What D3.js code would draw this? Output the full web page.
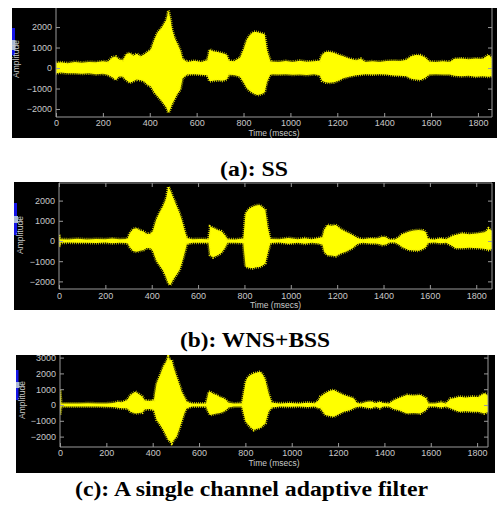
<!DOCTYPE html>
<html><head><meta charset="utf-8">
<script src="https://cdn.jsdelivr.net/npm/d3@7"></script>
<style>
body{margin:0;background:#fff;}
svg{display:block;}
.tk text{fill:#c8c8c8;font-family:"Liberation Sans",Arial,sans-serif;font-size:9px;}
.tk path,.tk line{stroke:#9a9a9a;stroke-width:1;}
</style></head><body>
<svg id="c" width="497" height="512"></svg>
<script>
// ---------- data ----------
const xTicks = [0,200,400,600,800,1000,1200,1400,1600,1800];
const yTicksAB = [-2000,-1000,0,1000,2000];
const yTicksC = [-2000,-1000,0,1000,2000,3000];
const xLabel = "Time (msecs)";
const yLabel = "Amplitude";
const captions = ["(a): SS","(b): WNS+BSS","(c): A single channel adaptive filter"];

// (a) SS : envelope of the waveform [time, upper, lower]
const ssTime  = [0,20,50,80,110,140,170,200,220,240,255,270,285,300,315,330,345,360,375,390,405,420,435,450,460,470,480,488,495,505,515,530,540,560,590,620,645,655,670,690,710,728,738,760,785,800,815,830,845,860,875,890,900,915,950,980,1010,1040,1070,1100,1125,1135,1150,1165,1185,1205,1225,1250,1280,1300,1320,1350,1380,1410,1440,1470,1495,1515,1535,1555,1575,1592,1620,1650,1680,1700,1730,1760,1790,1820,1845,1860];
const ssUpper = [250,280,230,300,260,300,280,330,300,520,560,420,380,680,730,600,700,560,650,780,900,1400,1770,1950,2150,2350,2800,2400,1900,1500,1250,880,450,300,350,300,380,900,820,780,720,650,350,330,500,900,1400,1650,1770,1750,1700,1650,880,320,300,340,300,360,310,330,350,650,780,800,750,650,570,460,380,450,300,330,300,340,360,340,400,580,630,620,520,320,300,330,300,450,470,430,470,440,640,500];
const ssLower = [-250,-220,-260,-250,-280,-260,-300,-280,-330,-450,-580,-400,-420,-600,-720,-650,-560,-600,-650,-820,-900,-1200,-1400,-1600,-1750,-1900,-2180,-2000,-1750,-1560,-1300,-1070,-500,-320,-300,-330,-350,-650,-620,-600,-620,-560,-330,-340,-420,-700,-1000,-1150,-1250,-1320,-1280,-1200,-680,-300,-320,-300,-330,-310,-340,-300,-350,-620,-700,-720,-700,-620,-500,-420,-350,-330,-300,-320,-300,-320,-360,-380,-400,-520,-560,-590,-480,-320,-300,-310,-320,-380,-400,-380,-420,-400,-430,-400];

// (b) WNS+BSS
const wbTime  = [0,5,40,80,120,160,200,230,260,295,305,320,335,350,365,378,395,405,419,433,448,462,472,480,491,505,520,532,541,552,575,610,645,652,665,684,700,715,727,760,795,805,820,836,850,865,880,890,900,912,950,990,1030,1060,1090,1120,1137,1144,1158,1175,1194,1215,1237,1266,1287,1310,1340,1365,1381,1395,1410,1425,1450,1467,1480,1508,1530,1551,1570,1582,1592,1620,1645,1670,1697,1710,1739,1770,1810,1840,1853,1868];
const wbUpper = [300,90,80,110,80,100,90,120,90,100,380,600,630,520,470,350,360,500,1040,1400,1700,2100,2690,2500,2190,1800,1370,950,540,150,90,100,90,710,650,540,480,300,90,80,120,1370,1600,1700,1760,1780,1650,1530,700,100,90,150,90,140,90,150,200,540,790,760,790,600,460,300,150,90,130,120,150,210,180,80,80,200,330,460,520,540,520,450,100,80,130,90,250,300,380,340,380,450,620,500];
const wbLower = [-300,-90,-80,-90,-90,-100,-80,-110,-90,-100,-300,-500,-530,-480,-440,-350,-360,-500,-940,-1200,-1440,-1800,-2100,-2180,-1930,-1700,-1440,-1000,-620,-150,-90,-90,-90,-700,-810,-700,-600,-360,-90,-90,-100,-1270,-1330,-1350,-1300,-1290,-1200,-1100,-620,-100,-80,-130,-90,-140,-90,-120,-180,-530,-700,-720,-750,-620,-530,-360,-150,-90,-120,-120,-150,-200,-170,-80,-80,-180,-300,-440,-470,-480,-400,-310,-100,-80,-110,-90,-250,-360,-360,-340,-360,-400,-440,-400];

// (c) single channel adaptive filter
const afTime  = [0,5,40,80,120,160,200,230,250,265,280,290,305,325,340,355,365,385,405,417,432,446,457,467,475,482,492,503,515,525,537,547,570,600,630,642,648,662,676,690,705,718,727,750,785,800,807,822,836,850,864,876,886,900,914,950,990,1030,1070,1100,1116,1124,1145,1165,1181,1200,1224,1250,1267,1281,1300,1325,1345,1360,1380,1395,1420,1440,1460,1497,1525,1555,1580,1590,1620,1645,1665,1685,1700,1723,1750,1780,1805,1831,1847];
const afUpper = [950,100,100,90,110,100,100,130,200,180,250,320,630,840,700,530,300,250,300,1370,1900,2430,2700,3060,2850,2850,2300,1800,1300,840,500,200,100,90,100,840,840,700,630,500,420,300,150,100,110,1400,1690,1900,2000,2050,2110,1900,1580,740,150,100,130,100,150,110,300,530,740,900,950,800,630,500,420,120,100,200,220,110,200,120,100,300,420,630,600,630,420,100,100,180,100,400,420,530,480,530,500,740,600];
const afLower = [-630,-100,-90,-100,-100,-90,-110,-120,-180,-200,-210,-220,-420,-530,-500,-480,-280,-260,-320,-950,-1250,-1580,-1900,-2210,-2300,-2420,-2200,-2000,-1500,-1050,-500,-200,-100,-90,-100,-500,-630,-580,-530,-500,-420,-300,-150,-100,-100,-1000,-1160,-1400,-1580,-1500,-1450,-1300,-1160,-420,-150,-100,-110,-100,-130,-100,-200,-210,-630,-700,-740,-600,-420,-330,-210,-120,-100,-180,-200,-100,-200,-100,-100,-250,-310,-530,-500,-530,-310,-100,-100,-150,-100,-210,-300,-420,-400,-420,-430,-530,-450];

// axis limits of each (cropped) panel
const xDomA = [0,1860], yDomA = [-2390,2930];
const xDomB = [0,1868], yDomB = [-2376,2871];
const xDomC = [0,1847], yDomC = [-2658,3165];

// ---------- layout ----------
const panels = [
  {t:ssTime,u:ssUpper,l:ssLower,xd:xDomA,yd:yDomA,yt:yTicksAB,
   bg:[12,8,485,130], L:56,R:492,T:8,B:117, topLine:false,
   xlab:125.5, tlab:136, amp:[16.5,59], blue:[12,28,3,27], lb:[12,40,3.5,10],
   cap:[254,176,68]},
  {t:wbTime,u:wbUpper,l:wbLower,xd:xDomB,yd:yDomB,yt:yTicksAB,
   bg:[14,182,481,128], L:59,R:492,T:183,B:289, topLine:true,
   xlab:299, tlab:308, amp:[20,235], blue:[14,203,3,32], lb:[14,216,4,7],
   cap:[255,347,150]},
  {t:afTime,u:afUpper,l:afLower,xd:xDomC,yd:yDomC,yt:yTicksC,
   bg:[16,355,479,118], L:60,R:488,T:355,B:447, topLine:false,
   xlab:456, tlab:466, amp:[22,400], blue:[16,370,2.5,30], lb:[16,382,3.5,6],
   cap:[251.5,496,353]}
];

const svg = d3.select("#c");
panels.forEach((p,i)=>{
  const g = svg.append("g");
  g.append("rect").attr("x",p.bg[0]).attr("y",p.bg[1]).attr("width",p.bg[2]).attr("height",p.bg[3]).attr("fill","#000");
  g.append("rect").attr("x",p.blue[0]).attr("y",p.blue[1]).attr("width",p.blue[2]).attr("height",p.blue[3]).attr("fill","#1414e6");
  g.append("rect").attr("x",p.lb[0]).attr("y",p.lb[1]).attr("width",p.lb[2]).attr("height",p.lb[3]).attr("fill","#aab8d8");

  const x = d3.scaleLinear().domain(p.xd).range([p.L,p.R]);
  const y = d3.scaleLinear().domain(p.yd).range([p.B,p.T]);

  const cid = "clip"+i;
  svg.append("clipPath").attr("id",cid).append("rect")
     .attr("x",p.L).attr("y",p.bg[1]).attr("width",p.R-p.L).attr("height",p.B-p.bg[1]);

  const idx = d3.range(p.t.length);
  const area = d3.area().x(k=>x(p.t[k])).y0(k=>y(p.l[k])).y1(k=>y(p.u[k])).curve(d3.curveLinear);
  const wave = g.append("g").attr("clip-path",`url(#${cid})`);
  wave.append("path").attr("d",area(idx)).attr("fill","#ffff00");
  // fuzzy (hairy) rim of the dense oscillation
  wave.append("path").attr("d",area(idx)).attr("fill","none")
      .attr("stroke","#f4f000").attr("stroke-width",3).attr("stroke-dasharray","0.7 1.3");

  // axes (MATLAB style, ticks inward)
  const ax = g.append("g").attr("class","tk");
  const bx = ax.append("g").attr("transform",`translate(0,${p.B})`)
    .call(d3.axisBottom(x).tickValues(xTicks).tickSize(-4).tickFormat(d3.format("d")))
    .call(s=>s.select(".domain").attr("d",`M${p.L},0H${p.R}`));
  bx.selectAll(".tick text").attr("y",p.xlab-p.B).attr("dy","0");
  ax.append("g").attr("transform",`translate(${p.L},0)`)
    .call(d3.axisLeft(y).tickValues(p.yt).tickSize(-4).tickPadding(4).tickFormat(d3.format("d")))
    .call(s=>s.select(".domain").attr("d",`M0,${p.T}V${p.B}`));
  ax.append("g").attr("transform",`translate(${p.R},0)`)
    .call(d3.axisRight(y).tickValues(p.yt).tickSize(-4).tickFormat(""))
    .call(s=>s.select(".domain").attr("d",`M0,${p.T}V${p.B}`));
  if(p.topLine){
    ax.append("g").attr("transform",`translate(0,${p.T})`)
      .call(d3.axisTop(x).tickValues(xTicks).tickSize(-4).tickFormat(""))
      .call(s=>s.select(".domain").attr("d",`M${p.L},0H${p.R}`));
  }
  ax.selectAll("text").attr("font-size","9px");

  g.append("text").attr("x",(p.L+p.R)/2).attr("y",p.tlab).attr("text-anchor","middle")
   .attr("fill","#c8c8c8").attr("font-family","Liberation Sans, Arial, sans-serif").attr("font-size","8.5px").text(xLabel);
  g.append("text").attr("transform",`translate(${p.amp[0]},${p.amp[1]}) rotate(-90)`).attr("text-anchor","middle").attr("dy","0.35em")
   .attr("fill","#c8c8c8").attr("font-family","Liberation Sans, Arial, sans-serif").attr("font-size","8.5px").text(yLabel);

  svg.append("text").attr("x",p.cap[0]).attr("y",p.cap[1]).attr("text-anchor","middle")
   .attr("font-family","Liberation Serif, Times New Roman, serif").attr("font-weight","bold").attr("font-size","20px")
   .attr("textLength",p.cap[2]).attr("lengthAdjust","spacingAndGlyphs").attr("fill","#000").text(captions[i]);
});
</script>
</body></html>
